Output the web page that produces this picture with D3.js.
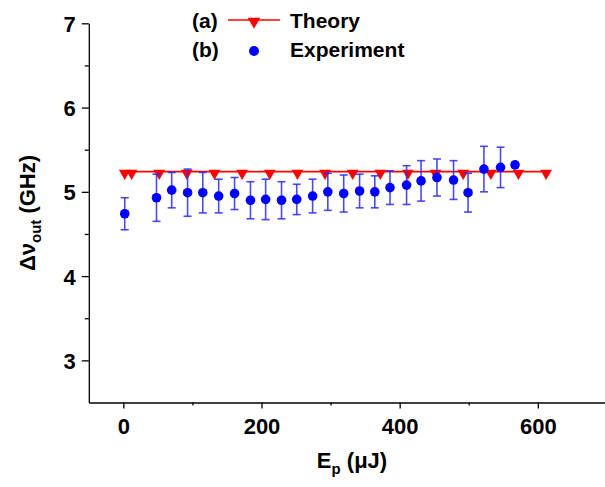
<!DOCTYPE html>
<html>
<head>
<meta charset="utf-8">
<script src="https://cdn.jsdelivr.net/npm/d3@7"></script>
<style>
    body { margin: 0; background: #fff; }
    text { font-family: "Liberation Sans", Arial, sans-serif; font-weight: bold; fill: #000; }
</style>
</head>
<body>
<div id="chart"></div>
<script>

// theory curve (a)
var theoryX = [2, 12, 52, 92, 132, 172, 212, 252, 292, 332, 372, 412, 452, 492, 532, 572, 612];
var theoryY = [5.24, 5.24, 5.24, 5.24, 5.24, 5.24, 5.24, 5.24, 5.24, 5.24, 5.24, 5.24, 5.24, 5.24, 5.24, 5.24, 5.24];

// experiment (b) with error bars
var expX = [2, 48, 70, 93, 115, 138, 161, 184, 206, 229, 251, 274, 296, 319, 342, 364, 386, 410, 431, 454, 478, 499, 522, 546, 567];
var expY = [4.74, 4.93, 5.02, 4.99, 4.99, 4.95, 4.98, 4.90, 4.91, 4.90, 4.91, 4.95, 5.00, 4.98, 5.01, 5.00, 5.05, 5.08, 5.13, 5.17, 5.14, 4.99, 5.27, 5.29, 5.32];
var expErr = [0.19, 0.28, 0.21, 0.28, 0.24, 0.20, 0.19, 0.22, 0.24, 0.22, 0.18, 0.20, 0.22, 0.22, 0.20, 0.19, 0.20, 0.23, 0.24, 0.22, 0.23, 0.23, 0.27, 0.24, 0.03];

var xTicks = [0, 200, 400, 600];
var xMinor = [100, 300, 500];
var yTicks = [3, 4, 5, 6, 7];
var yMinor = [3.5, 4.5, 5.5, 6.5];

var legendLabels = ["(a)", "(b)"];
var legendNames = ["Theory", "Experiment"];

var width = 605, height = 487;

var svg = d3.select("#chart").append("svg")
    .attr("width", width)
    .attr("height", height);

var x = d3.scaleLinear().domain([-50, 700]).range([88.8, 606.9]);
var y = d3.scaleLinear().domain([2.5, 7]).range([402.5, 23.3]);

var theory = theoryX.map(function(d, i) { return { x: d, y: theoryY[i] }; });
var exper = expX.map(function(d, i) { return { x: d, y: expY[i], e: expErr[i] }; });

// axes: major ticks with labels, minor ticks without
var xAxis = svg.append("g")
    .attr("transform", "translate(0," + y(2.5) + ")")
    .call(d3.axisBottom(x).tickValues(xTicks).tickFormat(d3.format("d")).tickSize(6).tickPadding(10).tickSizeOuter(0));
svg.append("g")
    .attr("transform", "translate(0," + y(2.5) + ")")
    .call(d3.axisBottom(x).tickValues(xMinor).tickSize(3).tickFormat("").tickSizeOuter(0))
    .select(".domain").remove();

var yAxis = svg.append("g")
    .attr("transform", "translate(" + x(-50) + ",0)")
    .call(d3.axisLeft(y).tickValues(yTicks).tickFormat(d3.format("d")).tickSize(7).tickPadding(6).tickSizeOuter(0));
svg.append("g")
    .attr("transform", "translate(" + x(-50) + ",0)")
    .call(d3.axisLeft(y).tickValues(yMinor).tickSize(4).tickFormat("").tickSizeOuter(0))
    .select(".domain").remove();

svg.selectAll(".domain").attr("stroke", "#000").attr("stroke-width", 1.3);
svg.selectAll(".tick line").attr("stroke", "#000").attr("stroke-width", 1.3);
svg.selectAll(".tick text")
    .style("font-size", "22px")
    .style("font-family", "'Liberation Sans', Arial, sans-serif")
    .style("font-weight", "bold")
    .attr("fill", "#000");
yAxis.selectAll(".tick text").attr("dy", "0.36em");

// axis titles
var xTitle = svg.append("text")
    .attr("x", 352)
    .attr("y", 468)
    .attr("text-anchor", "middle")
    .style("font-size", "22px");
xTitle.append("tspan").text("E");
xTitle.append("tspan").attr("dy", 6).style("font-size", "15px").text("p");
xTitle.append("tspan").attr("dy", -6).text(" (\u03bcJ)");

var yTitle = svg.append("text")
    .attr("transform", "translate(35,213) rotate(-90)")
    .attr("text-anchor", "middle")
    .style("font-size", "22px");
yTitle.append("tspan").text("\u0394\u03bd");
yTitle.append("tspan").attr("dy", 6).style("font-size", "15px").text("out");
yTitle.append("tspan").attr("dy", -6).text(" (GHz)");

// theory line and down triangles
var line = d3.line()
    .x(function(d) { return x(d.x); })
    .y(function(d) { return y(d.y); });

svg.append("path")
    .datum(theory)
    .attr("d", line)
    .attr("fill", "none")
    .attr("stroke", "#ff0000")
    .attr("stroke-width", 1.6);

var tri = d3.symbol().type(d3.symbolTriangle).size(60);

svg.append("g").selectAll("path")
    .data(theory)
    .enter().append("path")
    .attr("d", tri)
    .attr("fill", "#ff0000")
    .attr("transform", function(d) { return "translate(" + x(d.x) + "," + (y(d.y) + 1.5) + ") rotate(180)"; });

// experiment error bars
var bars = svg.append("g").selectAll("g")
    .data(exper)
    .enter().append("g")
    .attr("stroke", "#2a2af0")
    .attr("stroke-width", 1.6)
    .attr("stroke-opacity", 0.85);

bars.append("line")
    .attr("x1", function(d) { return x(d.x); })
    .attr("x2", function(d) { return x(d.x); })
    .attr("y1", function(d) { return y(d.y + d.e); })
    .attr("y2", function(d) { return y(d.y - d.e); });
bars.append("line")
    .attr("x1", function(d) { return x(d.x) - 4; })
    .attr("x2", function(d) { return x(d.x) + 4; })
    .attr("y1", function(d) { return y(d.y + d.e); })
    .attr("y2", function(d) { return y(d.y + d.e); });
bars.append("line")
    .attr("x1", function(d) { return x(d.x) - 4; })
    .attr("x2", function(d) { return x(d.x) + 4; })
    .attr("y1", function(d) { return y(d.y - d.e); })
    .attr("y2", function(d) { return y(d.y - d.e); });

svg.append("g").selectAll("circle")
    .data(exper)
    .enter().append("circle")
    .attr("cx", function(d) { return x(d.x); })
    .attr("cy", function(d) { return y(d.y); })
    .attr("r", 4.8)
    .attr("fill", "#0000ff");

// legend
var legend = svg.append("g");
legend.selectAll(".lab")
    .data(legendLabels)
    .enter().append("text")
    .attr("class", "lab")
    .attr("x", 192)
    .attr("y", function(d, i) { return 28 + i * 29; })
    .style("font-size", "21px")
    .text(function(d) { return d; });
legend.selectAll(".name")
    .data(legendNames)
    .enter().append("text")
    .attr("class", "name")
    .attr("x", 290)
    .attr("y", function(d, i) { return 28 + i * 29; })
    .style("font-size", "21px")
    .text(function(d) { return d; });

legend.append("line")
    .attr("x1", 228).attr("x2", 280)
    .attr("y1", 20).attr("y2", 20)
    .attr("stroke", "#ff0000")
    .attr("stroke-width", 1.6);
legend.append("path")
    .attr("d", d3.symbol().type(d3.symbolTriangle).size(70))
    .attr("fill", "#ff0000")
    .attr("transform", "translate(254,21.5) rotate(180)");
legend.append("circle")
    .attr("cx", 254)
    .attr("cy", 51)
    .attr("r", 5)
    .attr("fill", "#0000ff");

</script>
</body>
</html>
